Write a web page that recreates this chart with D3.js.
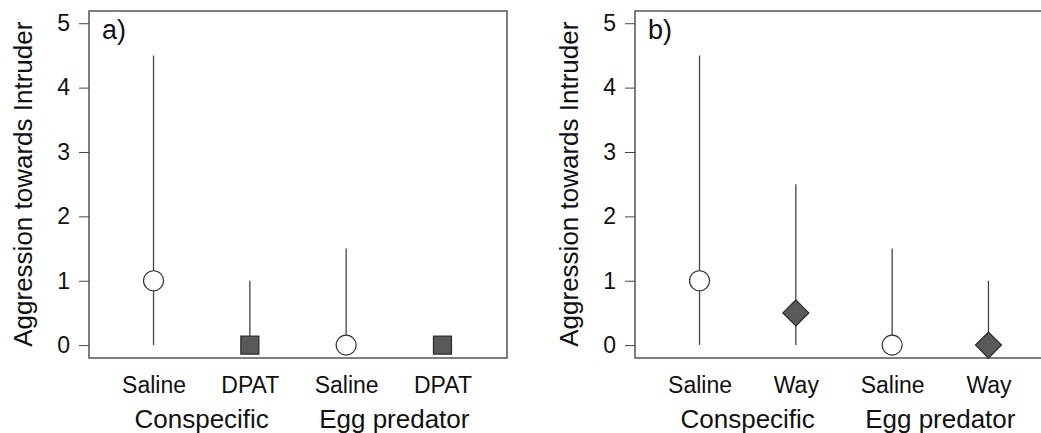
<!DOCTYPE html>
<html>
<head>
<meta charset="utf-8">
<script src="https://cdn.jsdelivr.net/npm/d3@7"></script>
<style>
  body { margin: 0; background: #fff; }
  svg { display: block; font-family: "Liberation Sans", Arial, sans-serif; }
</style>
</head>
<body>
<svg id="chart" width="1041" height="433"></svg>
<script>
// categories and values
var treatA = ['Saline', 'DPAT', 'Saline', 'DPAT'];
var treatB = ['Saline', 'Way', 'Saline', 'Way'];
var groups = ['Conspecific', 'Egg predator'];
var medianA = [1, 0, 0, 0];
var lowA = [0, 0, 0, 0];
var highA = [4.5, 1, 1.5, 0];
var medianB = [1, 0.5, 0, 0];
var lowB = [0, 0, 0, 0];
var highB = [4.5, 2.5, 1.5, 1];
var drugShape = ['circle', 'drug', 'circle', 'drug'];
var yTicks = [0, 1, 2, 3, 4, 5];

var svg = d3.select('#chart');

function drawPanel(left, tag, treat, median, low, high, drugSymbol) {
	var x = d3.scaleLinear().domain([0.33, 4.67]).range([left, left + 418]);
	var y = d3.scaleLinear().domain([-0.2, 5.19]).range([358, 11]);
	var g = svg.append('g');
	var pos = [1, 2, 3, 4];

	//frame
	g.append('rect')
		.attr('x', x(0.33)).attr('y', y(5.19))
		.attr('width', x(4.67) - x(0.33)).attr('height', y(-0.2) - y(5.19))
		.attr('fill', 'none').attr('stroke', '#555').attr('stroke-width', 1.5);

	//y axis
	var yAxis = g.append('g')
		.attr('transform', 'translate(' + x(0.33) + ',0)')
		.call(d3.axisLeft(y).tickValues(yTicks).tickSize(10).tickPadding(9).tickFormat(d3.format('d')));
	yAxis.select('.domain').remove();
	yAxis.selectAll('line').attr('stroke', '#444');
	yAxis.selectAll('text').attr('font-size', 23).attr('fill', '#111')
		.attr('font-family', '"Liberation Sans", Arial, sans-serif');

	//treatment labels
	var xAxis = g.append('g')
		.attr('transform', 'translate(0,' + y(-0.2) + ')')
		.call(d3.axisBottom(x).tickValues(pos).tickSize(0).tickPadding(19)
			.tickFormat(function(d) { return treat[d - 1]; }));
	xAxis.select('.domain').remove();
	xAxis.selectAll('text').attr('font-size', 23).attr('fill', '#111')
		.attr('font-family', '"Liberation Sans", Arial, sans-serif');

	//group labels
	g.selectAll('.grp')
		.data(groups)
		.enter().append('text')
		.attr('x', function(d, i) { return x(1.5 + i * 2); })
		.attr('y', 428)
		.attr('text-anchor', 'middle')
		.attr('font-size', 26)
		.attr('fill', '#111')
		.text(function(d) { return d; });

	//y label
	g.append('text')
		.attr('transform', 'translate(' + (left - 57) + ',' + y(2.5) + ') rotate(-90)')
		.attr('text-anchor', 'middle')
		.attr('font-size', 26)
		.attr('fill', '#111')
		.text('Aggression towards Intruder');

	//panel tag
	g.append('text')
		.attr('x', x(0.33) + 13).attr('y', 39)
		.attr('font-size', 27)
		.attr('fill', '#111')
		.text(tag);

	//ranges
	g.selectAll('.rng')
		.data(pos)
		.enter().append('line')
		.attr('x1', function(d) { return x(d); })
		.attr('x2', function(d) { return x(d); })
		.attr('y1', function(d, i) { return y(low[i]); })
		.attr('y2', function(d, i) { return y(high[i]); })
		.attr('stroke', '#444').attr('stroke-width', 1.3);

	//medians
	pos.forEach(function(d, i) {
		var cx = x(d), cy = y(median[i]);
		if (drugShape[i] === 'circle') {
			g.append('circle').attr('cx', cx).attr('cy', cy).attr('r', 10)
				.attr('fill', '#fff').attr('stroke', '#333').attr('stroke-width', 1.2);
		}
		else if (drugSymbol === 'square') {
			g.append('rect').attr('x', cx - 9).attr('y', cy - 9).attr('width', 18).attr('height', 18)
				.attr('fill', '#595959').attr('stroke', '#2a2a2a').attr('stroke-width', 1.2);
		}
		else {
			g.append('path')
				.attr('d', 'M' + cx + ',' + (cy - 13) + 'L' + (cx + 13) + ',' + cy + 'L' + cx + ',' + (cy + 13) + 'L' + (cx - 13) + ',' + cy + 'Z')
				.attr('fill', '#595959').attr('stroke', '#2a2a2a').attr('stroke-width', 1.2);
		}
	});
}

drawPanel(89, 'a)', treatA, medianA, lowA, highA, 'square');
drawPanel(635, 'b)', treatB, medianB, lowB, highB, 'diamond');
</script>
</body>
</html>
